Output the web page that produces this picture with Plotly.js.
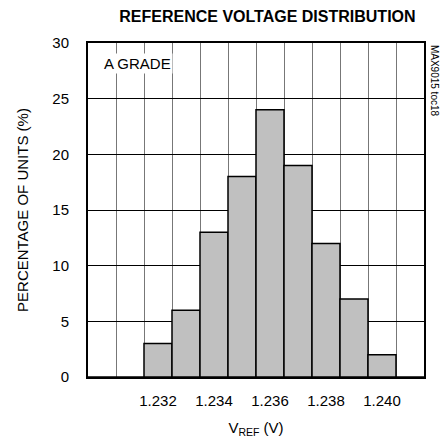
<!DOCTYPE html>
<html><head><meta charset="utf-8">
<script src="https://cdn.plot.ly/plotly-3.0.1.min.js"></script>
<style>body{margin:0;background:#fff}#c{width:445px;height:443px}</style>
</head><body><div id="c"></div>
<script>
const binCenters = [1.230, 1.231, 1.232, 1.233, 1.234, 1.235, 1.236, 1.237, 1.238, 1.239, 1.240, 1.241];
const percentUnits = [0, 0, 3, 6, 13, 18, 24, 19, 12, 7, 2, 0];
const xTickVals = [1.232, 1.234, 1.236, 1.238, 1.240];
const xTickText = ['1.232', '1.234', '1.236', '1.238', '1.240'];
const yTickVals = [0, 5, 10, 15, 20, 25, 30];

const F = '"Liberation Sans", Arial, sans-serif';
const trace = {
  type: 'bar', x: binCenters, y: percentUnits, width: 0.001,
  marker: {color: '#c0c0c0', line: {color: '#000', width: 1.5}},
  hoverinfo: 'none'
};
const ghost = {type:'scatter', x:[1.2295,1.2415], y:[0,0], xaxis:'x2', mode:'none', hoverinfo:'none', showlegend:false};
const layout = {
  width: 445, height: 443,
  margin: {l: 88, r: 21, t: 43, b: 66},
  paper_bgcolor: '#fff', plot_bgcolor: '#fff',
  showlegend: false, bargap: 0,
  font: {family: F, size: 15, color: '#000'},
  title: {text: '<b>REFERENCE VOLTAGE DISTRIBUTION</b>', font: {family: F, size: 16}, x: 0.601, xanchor: 'center', y: 0.962, yanchor: 'middle'},
  xaxis: {
    range: [1.2295, 1.2415], tick0: 1.2295, dtick: 0.001, showticklabels: false, ticks: '',
    showgrid: true, gridcolor: '#777', gridwidth: 1,
    showline: true, linecolor: '#000', linewidth: 2, mirror: true, zeroline: false
  },
  xaxis2: {
    overlaying: 'x', side: 'bottom', range: [1.2295, 1.2415],
    tickmode: 'array', tickvals: xTickVals, ticktext: xTickText, ticks: '',
    showgrid: false, zeroline: false, showline: false, tickfont: {size: 15},
    ticklabelstandoff: 13,
    title: {text: 'V<sub>REF</sub> (V)', font: {size: 15}, standoff: 14}
  },
  yaxis: {
    range: [0, 30], tickmode: 'array', tickvals: yTickVals, ticks: '',
    showgrid: true, gridcolor: '#000', gridwidth: 1, ticklabelstandoff: 14,
    showline: true, linecolor: '#000', linewidth: 2, mirror: true, zeroline: false,
    tickfont: {size: 15},
    title: {text: 'PERCENTAGE OF UNITS (%)', font: {size: 15}, standoff: 20}
  },
  annotations: [
    {xref: 'paper', yref: 'paper', x: 0.042, y: 0.94, xanchor: 'left', yanchor: 'middle',
     text: 'A GRADE', showarrow: false, bgcolor: '#fff', font: {size: 15}, borderpad: 1},
    {xref: 'paper', yref: 'paper', x: 1.033, y: 1.0, xanchor: 'center', yanchor: 'top',
     text: 'MAX9015 toc18', textangle: 90, showarrow: false, font: {size: 10}}
  ]
};
Plotly.newPlot('c', [trace, ghost], layout, {staticPlot: true});
</script></body></html>
